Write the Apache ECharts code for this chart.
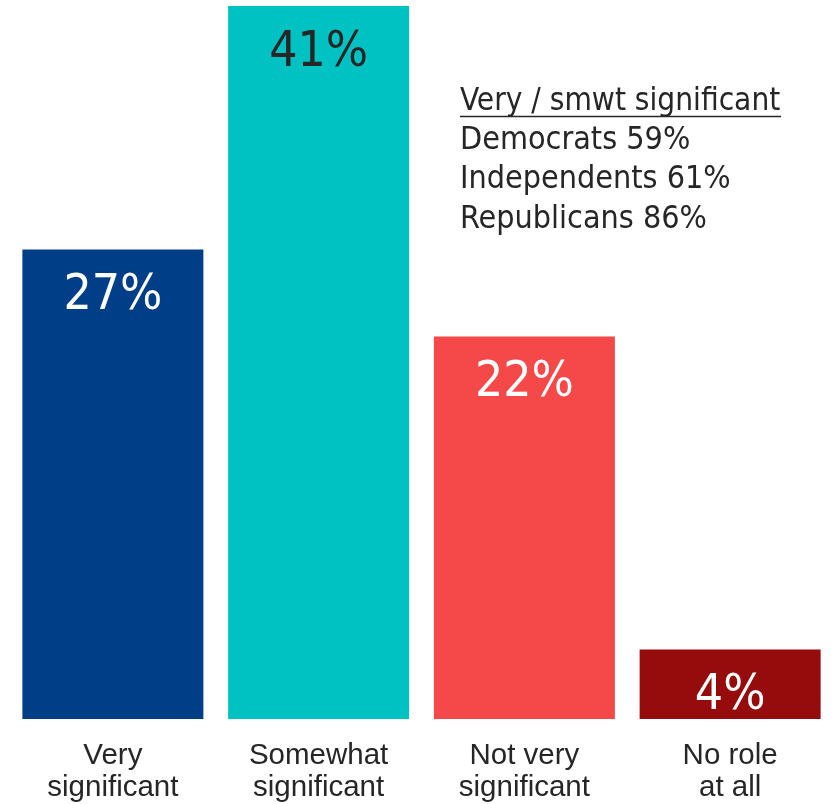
<!DOCTYPE html>
<html><head><meta charset="utf-8">
<script src="https://cdn.jsdelivr.net/npm/echarts@6/dist/echarts.min.js"></script>
<style>html,body{margin:0;padding:0;background:#fff}#c{width:833px;height:804px}</style>
</head><body><div id="c"></div>
<script>
const categories = ['Very\nsignificant', 'Somewhat\nsignificant', 'Not very\nsignificant', 'No role\nat all'];
const values = [27, 41, 22, 4];
const barColors = ['#003f87', '#00c2c2', '#f54848', '#960b0b'];
const labelColors = ['#ffffff', '#262626', '#ffffff', '#ffffff'];
const noteTitle = 'Very / smwt significant';
const noteLines = ['Democrats 59%', 'Independents 61%', 'Republicans 86%'];

const chart = echarts.init(document.getElementById('c'));
const FONT = '"DejaVu Sans Condensed", "DejaVu Sans", sans-serif';
chart.setOption({
  animation: false,
  grid: { left: 10, right: -2, top: 6, bottom: 84, containLabel: false },
  xAxis: {
    type: 'category', data: categories,
    axisLine: { show: false }, axisTick: { show: false },
    axisLabel: { color: '#262626', fontSize: 29.5, fontFamily: '"Liberation Sans", Arial, sans-serif', lineHeight: 32, margin: 21, interval: 0 }
  },
  yAxis: { type: 'value', min: 0, max: 41, show: false, splitLine: { show: false } },
  series: [{
    type: 'bar',
    barWidth: 181,
    data: values.map((v, i) => ({
      value: v,
      itemStyle: { color: barColors[i] },
      label: { color: labelColors[i] }
    })),
    label: {
      show: true, position: 'insideTop', distance: 22,
      formatter: p => p.value + '%',
      fontSize: 49.5, fontFamily: FONT
    }
  }],
  graphic: [
    { type: 'text', left: 460, top: 86, style: { text: noteTitle, fontSize: 31.3, fontFamily: FONT, fill: '#262626' } },
    { type: 'line', shape: { x1: 460, y1: 116.5, x2: 781, y2: 116.5 }, style: { stroke: '#262626', lineWidth: 1.5 } },
    { type: 'text', left: 460, top: 121, style: { text: noteLines.join('\n'), fontSize: 32, lineHeight: 39.3, fontFamily: FONT, fill: '#262626' } }
  ]
});
</script></body></html>
